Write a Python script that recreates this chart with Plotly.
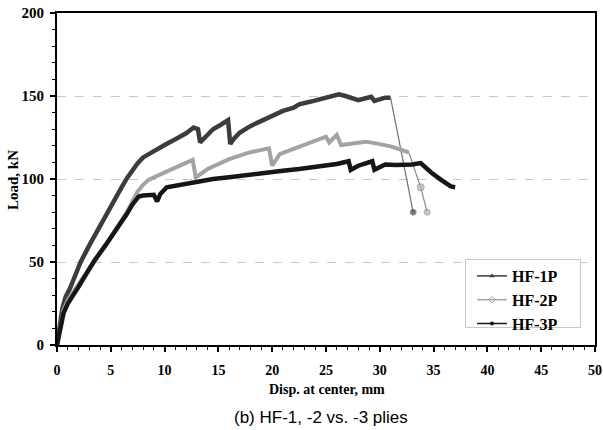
import plotly.graph_objects as go

# ---- data ----
hf1_x = [0, 0.2, 0.5, 0.8, 1.2, 1.7, 2.2, 3, 4, 5, 5.5, 6, 6.5, 7, 7.5, 8, 9, 10, 11, 12, 12.7, 13.1,
         13.3, 13.6, 14.5, 15.3, 15.9, 16.1, 16.4, 17, 18, 19, 20, 21, 22, 22.5, 23.5, 24.5, 25.5, 26.2,
         26.8, 27.3, 28, 28.6, 29.2, 29.5, 30, 30.5, 31]
hf1_y = [0, 10, 22, 29, 34, 42, 50, 60, 72, 83, 89, 95, 100.5, 105.5, 109.5, 113, 117, 120.5, 124, 127.5,
         131, 130, 122, 124, 130, 133, 135.5, 121, 124, 128, 132, 135, 138, 141, 143, 145, 146.5, 148,
         149.5, 151, 150, 149, 147.5, 148.5, 149.5, 147, 148, 149, 149]
hf1_tail_x = [31, 33.1]
hf1_tail_y = [149, 80]

hf2_x = [0, 0.3, 0.6, 1, 1.5, 2.5, 3.5, 4.5, 5.5, 6.5, 7, 7.5, 8, 8.5, 9.5, 10.5, 11.5, 12.6, 12.9, 14,
         16, 17.9, 19.7, 20, 20.7, 22.5, 23.5, 25, 25.3, 26, 26.4, 27.5, 28.7, 30, 31.1, 32, 32.7]
hf2_y = [0, 11, 21, 27, 32, 42, 51, 60, 70, 80, 86.5, 92.5, 96.5, 99.5, 102.5, 105.5, 108, 111.5, 101,
         106, 112, 116, 118.5, 108, 115, 119.5, 122, 125.5, 122, 126.5, 120.5, 121.5, 122.5, 121, 119.5,
         117.5, 116]
hf2_tail_x = [32.7, 33.8, 34.4]
hf2_tail_y = [116, 95, 80]

hf3_x = [0, 0.3, 0.6, 1, 1.5, 2, 2.5, 3, 3.5, 4.5, 5.5, 6.5, 7, 7.6, 8, 8.5, 9, 9.3, 9.6, 10.2, 11, 12,
         13.3, 14.5, 16, 17.9, 19, 20, 21, 22.5, 24, 25, 26, 27.1, 27.3, 28, 29.3, 29.5, 30.5, 31.5, 33,
         33.8, 34.8, 35.7, 36.6, 37]
hf3_y = [0, 11, 19, 25, 29.5, 35, 40.5, 46, 51, 60, 69, 79, 84.5, 89.5, 90, 90, 90.5, 86.5, 91, 95, 96,
         97, 99, 100, 101, 102.7, 103.5, 104, 105, 106, 107, 108, 109, 110.7, 105.5, 108, 110.7, 105.5,
         108.7, 108.5, 108.7, 109.6, 103.8, 99.5, 95.5, 95]

series_names = ["HF-1P", "HF-2P", "HF-3P"]
x_ticks = [0, 5, 10, 15, 20, 25, 30, 35, 40, 45, 50]
y_ticks = [0, 50, 100, 150, 200]

c1, c2, c3 = "#3c3c3c", "#a3a3a3", "#161616"
serif = "Liberation Serif"

# plot area in pixels: x 57..595, y 13..345
L, R, T, B = 57, 8, 13, 85
W, H = 603, 430
pw, ph = W - L - R, H - T - B


def px(x):
    return (x - L) / pw


def py(y):
    return (H - B - y) / ph


fig = go.Figure()

fig.add_trace(go.Scatter(x=hf1_x, y=hf1_y, mode="lines", line=dict(color=c1, width=4.5),
                         showlegend=False, hoverinfo="skip"))
fig.add_trace(go.Scatter(x=hf1_tail_x, y=hf1_tail_y, mode="lines+markers",
                         line=dict(color="#707070", width=1.2),
                         marker=dict(size=[0, 6], color=c1, symbol="circle"),
                         showlegend=False, hoverinfo="skip"))

fig.add_trace(go.Scatter(x=hf2_x, y=hf2_y, mode="lines", line=dict(color=c2, width=4),
                         showlegend=False, hoverinfo="skip"))
fig.add_trace(go.Scatter(x=hf2_tail_x, y=hf2_tail_y, mode="lines+markers",
                         line=dict(color="#8a8a8a", width=1.2),
                         marker=dict(size=[0, 7, 6], color="#b5b5b5", symbol="circle",
                                     line=dict(color="#888888", width=1)),
                         showlegend=False, hoverinfo="skip"))

fig.add_trace(go.Scatter(x=hf3_x, y=hf3_y, mode="lines", line=dict(color=c3, width=4.5),
                         showlegend=False, hoverinfo="skip"))

# legend entries
fig.add_trace(go.Scatter(x=[None], y=[None], mode="lines+markers", name=series_names[0],
                         line=dict(color=c1, width=1.5), marker=dict(symbol="triangle-up", size=5, color=c1)))
fig.add_trace(go.Scatter(x=[None], y=[None], mode="lines+markers", name=series_names[1],
                         line=dict(color=c2, width=1.5),
                         marker=dict(symbol="diamond-open", size=5, color=c2)))
fig.add_trace(go.Scatter(x=[None], y=[None], mode="lines+markers", name=series_names[2],
                         line=dict(color=c3, width=1.5), marker=dict(symbol="circle", size=4, color=c3)))

fig.update_layout(
    width=W, height=H,
    margin=dict(l=L, r=R, t=T, b=B, autoexpand=False),
    paper_bgcolor="white", plot_bgcolor="white",
    font=dict(family=serif, color="black"),
    legend=dict(x=px(472), y=py(259), xanchor="left", yanchor="top",
                borderwidth=0, bgcolor="rgba(0,0,0,0)",
                font=dict(family=serif, size=16, color="black", weight="bold"),
                tracegroupgap=0, itemwidth=30),
    showlegend=True,
)

# legend frame
fig.add_shape(type="rect", xref="paper", yref="paper", x0=px(465.5), x1=px(580.5), y0=py(327.5), y1=py(259.5),
              line=dict(color="#c8c8c8", width=1), fillcolor="white", layer="above")

fig.update_xaxes(
    range=[0, 50], tickvals=x_ticks, showgrid=False, zeroline=False, automargin=False,
    showline=True, linecolor="black", linewidth=2, mirror=True,
    ticks="outside", ticklen=5, tickwidth=1.5, tickcolor="black",
    minor=dict(dtick=1, ticks="outside", ticklen=3, tickcolor="black", tickwidth=1, showgrid=False),
    tickfont=dict(family=serif, size=14, color="black", weight="bold"),
    ticklabelstandoff=6, ticklabeloverflow="allow",
)
fig.update_yaxes(
    range=[0, 200], tickvals=y_ticks, zeroline=False, automargin=False,
    showgrid=True, gridcolor="#c8c8c8", griddash="dash", gridwidth=1.2,
    showline=True, linecolor="black", linewidth=2, mirror=True,
    ticks="outside", ticklen=5, tickwidth=1.5, tickcolor="black",
    minor=dict(dtick=10, ticks="outside", ticklen=3, tickcolor="black", tickwidth=1, showgrid=False),
    tickfont=dict(family=serif, size=15, color="black", weight="bold"),
    ticklabelstandoff=3, ticklabeloverflow="allow",
)

fig.add_annotation(text="Disp. at center, mm", xref="paper", yref="paper",
                   x=px(327), y=py(389), xanchor="center", yanchor="middle", showarrow=False,
                   font=dict(family=serif, size=14, color="black", weight="bold"))
fig.add_annotation(text="Load, kN", xref="paper", yref="paper", textangle=-90,
                   x=px(13), y=py(180), xanchor="center", yanchor="middle", showarrow=False,
                   font=dict(family=serif, size=15, color="black", weight="bold"))
fig.add_annotation(text="(b) HF-1, -2 vs. -3 plies", xref="paper", yref="paper",
                   x=px(321), y=py(417), xanchor="center", yanchor="middle", showarrow=False,
                   font=dict(family="Liberation Sans", size=17, color="black"))

fig.write_html("out.html")
